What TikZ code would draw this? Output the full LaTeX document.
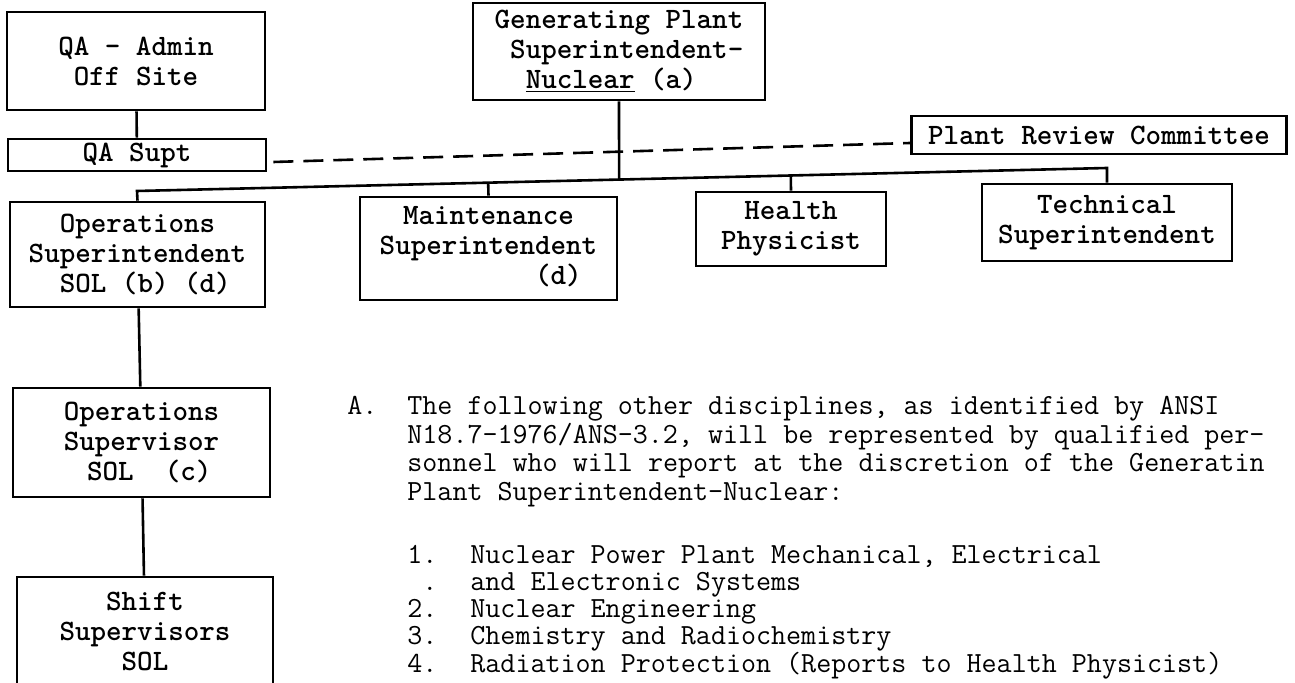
\documentclass[tikz,border=0pt]{standalone}
\usepackage{tikz}
\usetikzlibrary{positioning, calc}
\newcommand\OrgFont{\ttfamily\bfseries\fontsize{14.8}{15}\selectfont}
\newcommand\ParFont{\ttfamily\fontsize{14.6}{14.6}\selectfont}
\tikzset{
  orgbox/.style={draw, line width=1.3pt, font=\OrgFont, align=center, inner sep=0pt},
  link/.style={line width=1.3pt},
  parline/.style={font=\ParFont, anchor=base west, inner sep=0pt}
}

\begin{document}
\begin{tikzpicture}[x=0.5pt, y=-0.5pt]
  \useasboundingbox (0,0) rectangle (1295,683);
  % boxes of the chart
  \node [orgbox, minimum width=129pt, minimum height=49pt] (qaadmin) at (136,61) {QA - Admin\\Off Site};
  \node [orgbox, minimum width=129pt, minimum height=16pt] (qasupt) at (137,155) {QA Supt};
  \node [orgbox, align=left, minimum width=146pt, minimum height=48.5pt] (gpsn) at (619,51.5)
        {Generating Plant\\~Superintendent-\\~~\underline{Nuclear}~(a)};
  \node [orgbox, minimum width=187.5pt, minimum height=19pt] (prc) at (1099,135) {Plant Review Committee};
  \node [orgbox, minimum width=127.5pt, minimum height=52.5pt] (ops) at (137.5,254.5)
        {Operations\\Superintendent\\~SOL~(b)~(d)};
  \node [orgbox, minimum width=128.5pt, minimum height=51.5pt] (maint) at (488.5,248.5)
        {Maintenance\\Superintendent\\\phantom{Superinten}(d)\phantom{t}};
  \node [orgbox, minimum width=95pt, minimum height=37pt] (hp) at (791,229) {Health\\Physicist};
  \node [orgbox, minimum width=125pt, minimum height=38.5pt] (tech) at (1107,222.5) {Technical\\Superintendent};
  \node [orgbox, minimum width=128.5pt, minimum height=54.5pt] (opsv) at (141.5,442.5)
        {Operations\\Supervisor\\~SOL~~(c)};
  \node [orgbox, minimum width=128pt, minimum height=54pt] (shift) at (145,631)
        {Shift\\Supervisors\\SOL};

  % lines
  \draw [link] (qaadmin) -- (qasupt);
  \draw [link, dash pattern=on 10pt off 5pt] ([xshift=3pt, yshift=-3.5pt]qasupt.east) -- ([yshift=-4pt]prc.west);
  \coordinate (busL) at (137,191);
  \coordinate (busR) at (1107,168);
  \draw [link] (ops.north) -- (busL) -- (busR) -- (tech.north);
  \path (busL) -- (busR) coordinate[pos=0.362] (busM) coordinate[pos=0.497] (busG) coordinate[pos=0.674] (busH);
  \draw [link] (gpsn.south) -- (busG);
  \draw [link] (busM) -- (maint.north);
  \draw [link] (busH) -- (hp.north);
  \draw [link] (ops) -- (opsv);
  \draw [link] (opsv) -- (shift);

  % note A
  \node [parline] (labA) at (347,415) {A.};
  \foreach \t [count=\i from 0] in {{The following other disciplines, as identified by ANSI},
      {N18.7-1976/ANS-3.2, will be represented by qualified per-},
      {sonnel who will report at the discretion of the Generatin},
      {Plant Superintendent-Nuclear:}}{
    \node [parline] (parA\i) at (407,415+28.5*\i) {\t};
  }
  \foreach \y/\n/\t [count=\i] in {563/1./{Nuclear Power Plant Mechanical, Electrical},
      590/~./{and Electronic Systems},
      617/2./{Nuclear Engineering},
      644/3./{Chemistry and Radiochemistry},
      672/4./{Radiation Protection (Reports to Health Physicist)}}{
    \node [parline] (num\i) at (407,\y) {\n};
    \node [parline] (item\i) at (470,\y) {\t};
  }
\end{tikzpicture}
\end{document}
